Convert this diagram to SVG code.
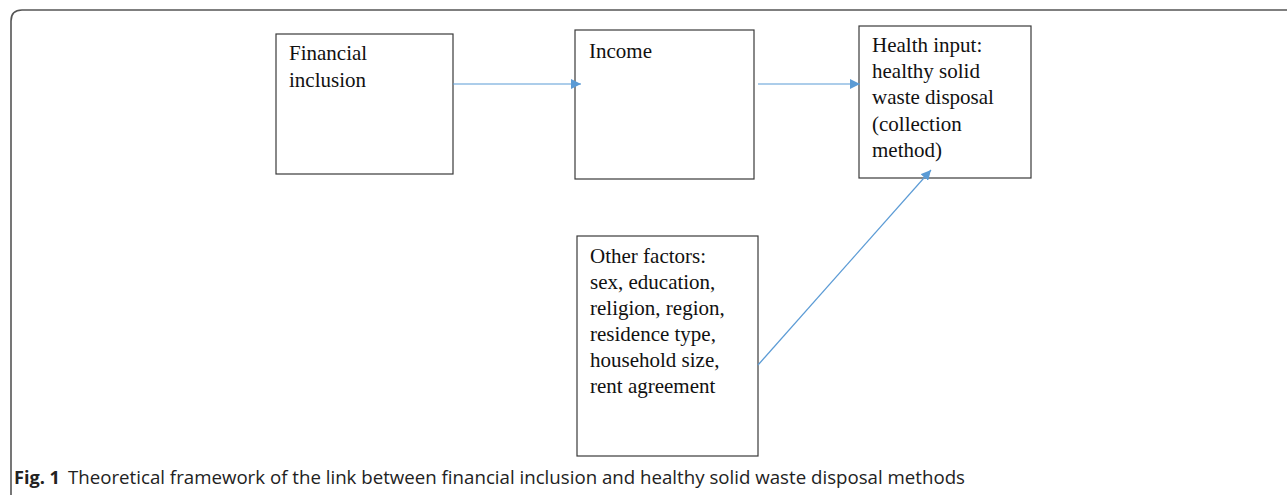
<svg xmlns="http://www.w3.org/2000/svg" width="1287" height="495" viewBox="0 0 1287 495">
<style>
.box{fill:#fff;stroke:#3a3a3a;stroke-width:1.2}
.t{font-family:"Liberation Serif","Times New Roman",serif;font-size:21px;fill:#111}
.c{stroke:#5b9bd5;stroke-width:1.2;fill:none}
.cap{font-family:"Liberation Sans Narrow","Open Sans",sans-serif;font-size:18px;fill:#222}
</style>
<defs>
<marker id="ah" viewBox="0 0 10 10" refX="10" refY="5" markerWidth="10" markerHeight="10" markerUnits="userSpaceOnUse" orient="auto">
<path d="M0,0 L10,5 L0,10 z" fill="#5b9bd5"/>
</marker>
</defs>
<rect width="1287" height="495" fill="#fff"/>
<path d="M11,495 V21 Q11,10 22,10 H1287" fill="none" stroke="#555" stroke-width="1.6"/>
<g id="financial-inclusion">
<rect class="box" x="276" y="34" width="177" height="140"/>
<text class="t" x="289" y="60">Financial</text>
<text class="t" x="289" y="87">inclusion</text>
</g>
<g id="income">
<rect class="box" x="575" y="30" width="179" height="149"/>
<text class="t" x="589" y="58">Income</text>
</g>
<g id="health-input">
<rect class="box" x="859" y="26" width="172" height="152"/>
<text class="t" x="872" y="52">Health input:</text>
<text class="t" x="872" y="78">healthy solid</text>
<text class="t" x="872" y="104">waste disposal</text>
<text class="t" x="872" y="131">(collection</text>
<text class="t" x="872" y="157">method)</text>
</g>
<g id="other-factors">
<rect class="box" x="577" y="236" width="181" height="220"/>
<text class="t" x="590" y="263">Other factors:</text>
<text class="t" x="590" y="289">sex, education,</text>
<text class="t" x="590" y="315">religion, region,</text>
<text class="t" x="590" y="341">residence type,</text>
<text class="t" x="590" y="367">household size,</text>
<text class="t" x="590" y="393">rent agreement</text>
</g>
<g id="connectors">
<line class="c" x1="453" y1="84" x2="581" y2="84" marker-end="url(#ah)"/>
<line class="c" x1="758" y1="84" x2="860" y2="84" marker-end="url(#ah)"/>
<line class="c" x1="758" y1="365" x2="931" y2="170" marker-end="url(#ah)"/>
</g>
<g id="caption">
<text class="cap" x="14" y="484"><tspan font-weight="bold" textLength="46" lengthAdjust="spacingAndGlyphs">Fig. 1</tspan><tspan x="68" textLength="897" lengthAdjust="spacingAndGlyphs">Theoretical framework of the link between financial inclusion and healthy solid waste disposal methods</tspan></text>
</g>
</svg>
